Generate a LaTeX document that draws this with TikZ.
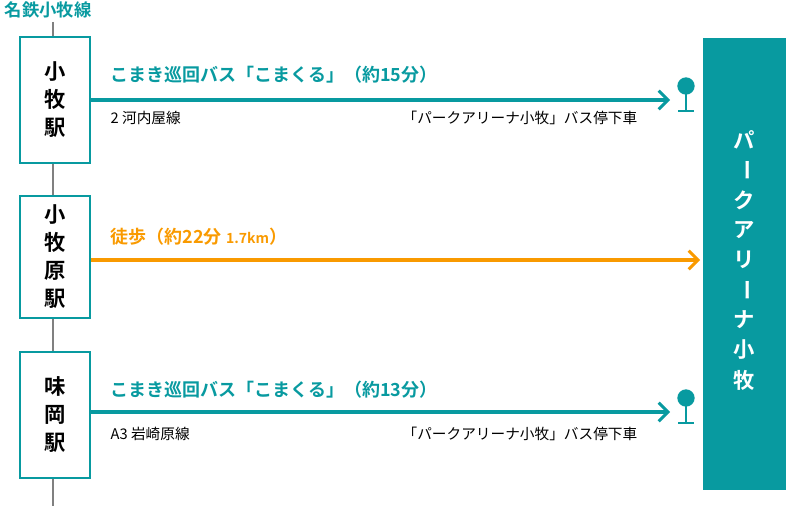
\documentclass[tikz,border=0pt]{standalone}
\usepackage{fontspec}
\setmainfont{Noto Sans CJK JP}[BoldFont={Noto Sans CJK JP Bold}]
\usetikzlibrary{arrows.meta}
\definecolor{teal1}{RGB}{8,154,160}
\definecolor{walk}{RGB}{249,154,0}
\tikzset{
  station/.style={draw=teal1,line width=1.5pt,fill=white,minimum width=52.5pt,align=center,font=\bfseries\fontsize{16}{21}\selectfont},
  route/.style={line width=3pt,-{Straight Barb[length=7pt,width=14pt,line width=2.2pt]}},
  bus/.style={teal1,font=\bfseries\fontsize{13.5}{14}\selectfont,anchor=base west},
  note/.style={font=\fontsize{11}{12}\selectfont,anchor=base west}
}
\newcommand{\busstop}[2]{%
  \fill[teal1] (#1,#2-14) circle (6.5pt);
  \draw[teal1,line width=2.2pt] (#1,#2-10) -- (#1,#2+11);
  \draw[teal1,line width=2.2pt] (#1-8,#2+11) -- (#1+8,#2+11);}
\begin{document}
\begin{tikzpicture}[x=0.75pt,y=-0.75pt]
\useasboundingbox (0,0) rectangle (786,506);
\node[teal1,font=\bfseries\fontsize{13}{14}\selectfont,anchor=base west] (line) at (0,17) {名鉄小牧線};
\draw[gray,line width=0.8pt] (53,22) -- (53,506);
% stations
\node[station,minimum height=94pt] (komaki) at (55,100) {小\\牧\\駅};
\node[station,minimum height=91pt] (komakihara) at (55,257) {小\\牧\\原\\駅};
\node[station,minimum height=94pt] (ajioka) at (55,415) {味\\岡\\駅};
% arena
\node[fill=teal1,minimum width=62pt,minimum height=339pt,anchor=north west,inner sep=0] (arena) at (703,38) {};
\foreach \c [count=\i] in {パ,|,ク,ア,リ,|,ナ,小,牧}{
  \node[white,font=\bfseries\fontsize{16}{16}\selectfont] (a\i) at (744,110+30*\i) {\if|\c\rotatebox{-90}{ー}\else\c\fi};
}
% routes
\coordinate (s1) at (670,100);
\coordinate (s3) at (670,412);
\coordinate (e2) at (700,260);
\draw[route,teal1] (komaki.east|-s1) -- (s1);
\draw[route,walk] (komakihara.east|-e2) -- (e2);
\draw[route,teal1] (ajioka.east|-s3) -- (s3);
\busstop{686}{100}
\busstop{686}{412}
\node[bus] (b1) at (106,82) {こまき巡回バス「こまくる」（約15分）};
\node[note] (r1) at (106,124) {2 河内屋線};
\node[note,anchor=base east] (d1) at (642,124) {「パークアリーナ小牧」バス停下車};
\node[bus,walk] (w) at (106,244) {徒歩（約22分 {\fontsize{10.5}{12}\selectfont 1.7km}）};
\node[bus] (b3) at (106,396) {こまき巡回バス「こまくる」（約13分）};
\node[note] (r3) at (106,439) {A3 岩崎原線};
\node[note,anchor=base east] (d3) at (642,439) {「パークアリーナ小牧」バス停下車};
\end{tikzpicture}
\end{document}
